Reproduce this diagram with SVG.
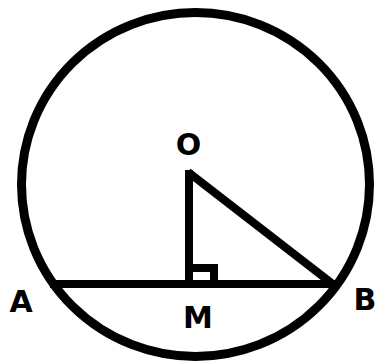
<svg xmlns="http://www.w3.org/2000/svg" width="377" height="363" viewBox="0 0 377 363">
<style>
.s{fill:none;stroke:#000;stroke-width:8;stroke-linecap:butt;stroke-linejoin:miter}
.c{fill:none;stroke:#000;stroke-width:9}
.t{font-family:"DejaVu Sans",Verdana,sans-serif;font-weight:bold;font-size:30px;fill:#000;text-anchor:middle}
</style>
<rect width="377" height="363" fill="#fff"/>
<g id="circle"><ellipse class="c" cx="195.5" cy="184.5" rx="174" ry="172"/></g>
<g id="connectors">
<line class="s" x1="50" y1="284" x2="336" y2="284"/>
<line class="s" x1="189" y1="170" x2="189" y2="288"/>
<line class="s" x1="188" y1="172" x2="334" y2="285"/>
<path class="s" d="M189 268H214V284"/>
</g>
<g id="O"><text class="t" x="188.5" y="155">O</text></g>
<g id="A"><text class="t" x="21" y="312">A</text></g>
<g id="M"><text class="t" x="198" y="328">M</text></g>
<g id="B"><text class="t" x="365" y="310">B</text></g>
</svg>
